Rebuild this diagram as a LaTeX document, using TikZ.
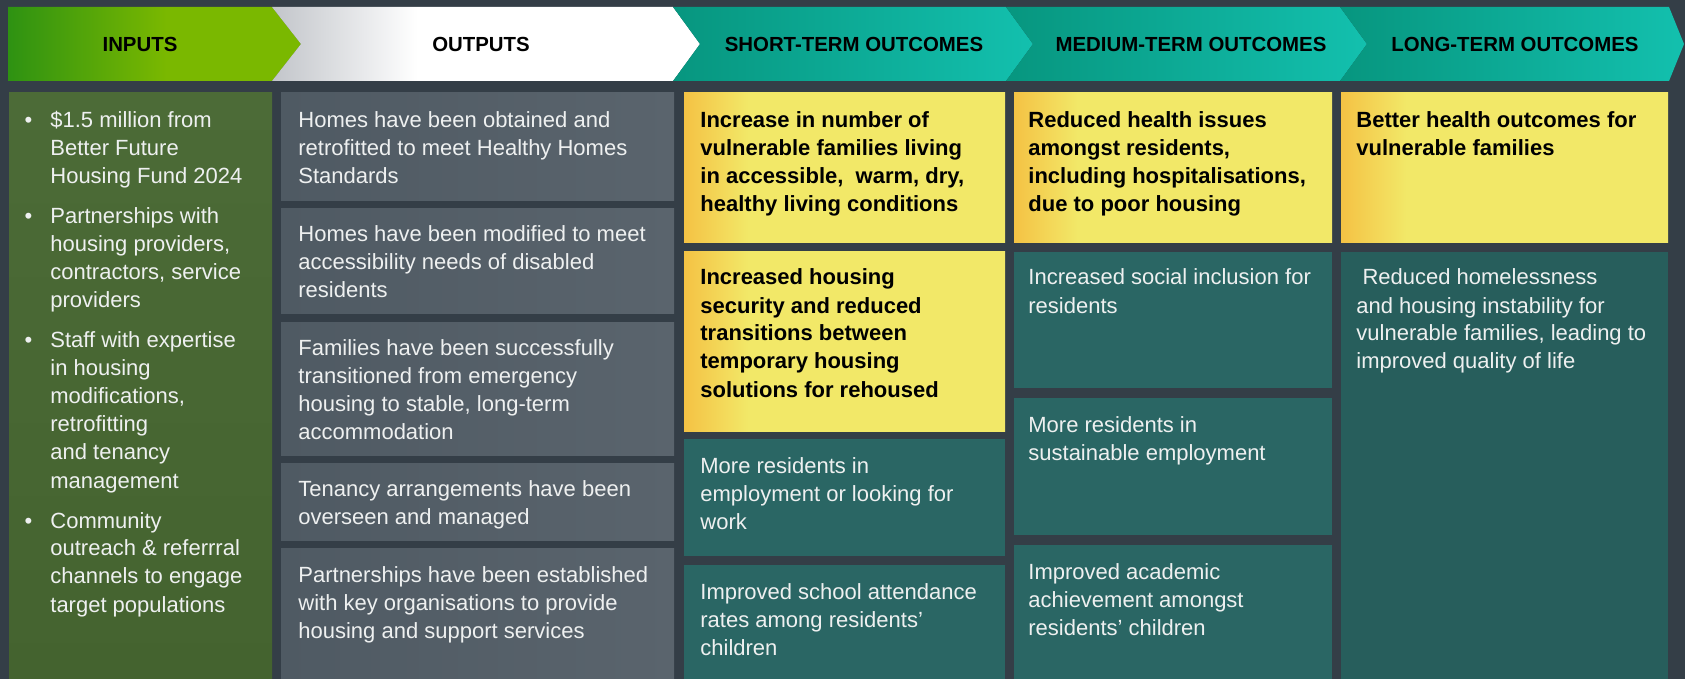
\documentclass[tikz,border=0pt]{standalone}
\usepackage{fontspec}
\setmainfont{Liberation Sans}

\definecolor{bgdark}{HTML}{343E47}
\definecolor{ingreenA}{HTML}{4C6B37}
\definecolor{ingreenB}{HTML}{44632F}
\definecolor{outgrayA}{HTML}{4F5A63}
\definecolor{outgrayB}{HTML}{5A646D}
\definecolor{tealbody}{HTML}{2A6664}
\definecolor{tealdeep}{HTML}{275E5C}
\definecolor{headtealA}{HTML}{07967F}
\definecolor{headtealB}{HTML}{13C0AE}
\definecolor{yorange}{HTML}{F4C244}
\definecolor{yyellow}{HTML}{F2E868}
\definecolor{hgreenA}{HTML}{2E9212}
\definecolor{hgreenB}{HTML}{7AB800}
\definecolor{hgray}{HTML}{C2C5CA}
\definecolor{txtwhite}{HTML}{EEF0F0}

\pgfdeclarehorizontalshading{yelshade}{100bp}{color(0bp)=(yorange); color(25bp)=(yorange); color(35bp)=(yyellow); color(100bp)=(yyellow)}
\pgfdeclarehorizontalshading{ingrad}{100bp}{color(0bp)=(hgreenA); color(25bp)=(hgreenA); color(52bp)=(hgreenB); color(100bp)=(hgreenB)}
\pgfdeclarehorizontalshading{outgrad}{100bp}{color(0bp)=(hgray); color(25bp)=(hgray); color(42bp)=(white); color(100bp)=(white)}

% lines of a box, first baseline on the node's base
\newcommand\stack[1]{\begin{tabular}[t]{@{}l@{}}#1\end{tabular}}

\begin{document}
\begin{tikzpicture}[x=0.5pt,y=-0.5pt,
    head/.style={inner sep=0pt, text=black, font=\fontsize{10.2}{12}\selectfont\bfseries},
    wtxt/.style={anchor=base west, inner sep=0pt, text=txtwhite, font=\fontsize{11}{14}\selectfont},
    btxt/.style={wtxt, text=black, font=\fontsize{11}{14}\selectfont\bfseries},
    outbox/.style={left color=outgrayA, right color=outgrayB},
    tealbox/.style={fill=tealbody},
    yelbox/.style={shading=yelshade}]
    \fill[bgdark] (0,0) rectangle (1685,679);
    \useasboundingbox (0,0) rectangle (1685,679);
    % header chevrons
    \shade[shading=ingrad] (8,7) -- (272,7) -- (301,44) -- (272,81) -- (8,81) -- cycle;
    \shade[shading=outgrad] (272,7) -- (673,7) -- (700,44) -- (673,81) -- (272,81) -- (301,44) -- cycle;
    \shade[left color=headtealA, right color=headtealB] (673,7) -- (1006,7) -- (1033,44) -- (1006,81) -- (673,81) -- (700,44) -- cycle;
    \shade[left color=headtealA, right color=headtealB] (1006,7) -- (1340,7) -- (1367,44) -- (1340,81) -- (1006,81) -- (1033,44) -- cycle;
    \shade[left color=headtealA, right color=headtealB] (1340,7) -- (1669,7) -- (1684,44) -- (1669,81) -- (1340,81) -- (1367,44) -- cycle;
    \node[head] (hin) at (140,44) {INPUTS};
    \node[head] (hout) at (481,44) {OUTPUTS};
    \node[head] (hshort) at (854,44) {SHORT-TERM OUTCOMES};
    \node[head] (hmed) at (1191,44) {MEDIUM-TERM OUTCOMES};
    \node[head] (hlong) at (1515,44) {LONG-TERM OUTCOMES};
    % column boxes
    \shade[top color=ingreenA, bottom color=ingreenB] (9,93) rectangle (272,679);
    \shade[outbox] (281,93) rectangle (674,201);
    \shade[outbox] (281,209) rectangle (674,313);
    \shade[outbox] (281,322) rectangle (674,455);
    \shade[outbox] (281,463) rectangle (674,540);
    \shade[outbox] (281,548) rectangle (674,679);
    \shade[yelbox] (684,93) rectangle (1005,243);
    \shade[yelbox] (684,252) rectangle (1005,431);
    \fill[tealbox] (684,439) rectangle (1005,556);
    \fill[tealbox] (684,565) rectangle (1005,679);
    \shade[yelbox] (1014,93) rectangle (1332,243);
    \fill[tealbox] (1014,252) rectangle (1332,388);
    \fill[tealbox] (1014,398) rectangle (1332,535);
    \fill[tealbox] (1014,545) rectangle (1332,679);
    \shade[yelbox] (1341,93) rectangle (1668,243);
    \fill[tealdeep] (1341,252) rectangle (1668,679);
    % inputs
    \node[wtxt] (inlist) at (50,128) {\stack{\llap{\textbullet\hspace{9pt}}\$1.5 million from\\Better Future\\Housing Fund 2024\\[6pt]
        \llap{\textbullet\hspace{9pt}}Partnerships with\\housing providers,\\contractors, service\\providers\\[6pt]
        \llap{\textbullet\hspace{9pt}}Staff with expertise\\in housing\\modifications,\\retrofitting\\and tenancy\\management\\[6pt]
        \llap{\textbullet\hspace{9pt}}Community\\outreach \& referrral\\channels to engage\\target populations}};
    % outputs
    \node[wtxt] (out1) at (298,128) {\stack{Homes have been obtained and\\retrofitted to meet Healthy Homes\\Standards}};
    \node[wtxt] (out2) at (298,242) {\stack{Homes have been modified to meet\\accessibility needs of disabled\\residents}};
    \node[wtxt] (out3) at (298,355) {\stack{Families have been successfully\\transitioned from emergency\\housing to stable, long-term\\accommodation}};
    \node[wtxt] (out4) at (298,496) {\stack{Tenancy arrangements have been\\overseen and managed}};
    \node[wtxt] (out5) at (298,582) {\stack{Partnerships have been established\\with key organisations to provide\\housing and support services}};
    % short-term
    \node[btxt] (short1) at (700,128) {\stack{Increase in number of\\vulnerable families living\\in accessible,\ \ warm, dry,\\healthy living conditions}};
    \node[btxt] (short2) at (700,285) {\stack{Increased housing\\security and reduced\\transitions between\\temporary housing\\solutions for rehoused}};
    \node[wtxt] (short3) at (700,473) {\stack{More residents in\\employment or looking for\\work}};
    \node[wtxt] (short4) at (700,599) {\stack{Improved school attendance\\rates among residents'\\children}};
    % medium-term
    \node[btxt] (med1) at (1028,128) {\stack{Reduced health issues\\amongst residents,\\including hospitalisations,\\due to poor housing}};
    \node[wtxt] (med2) at (1028,285) {\stack{Increased social inclusion for\\residents}};
    \node[wtxt] (med3) at (1028,432) {\stack{More residents in\\sustainable employment}};
    \node[wtxt] (med4) at (1028,579) {\stack{Improved academic\\achievement amongst\\residents' children}};
    % long-term
    \node[btxt] (long1) at (1356,128) {\stack{Better health outcomes for\\vulnerable families}};
    \node[wtxt] (long2) at (1356,285) {\stack{\ Reduced homelessness\\and housing instability for\\vulnerable families, leading to\\improved quality of life}};
\end{tikzpicture}
\end{document}
